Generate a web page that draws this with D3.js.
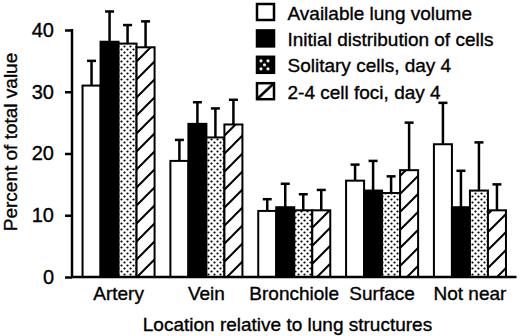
<!DOCTYPE html>
<html><head><meta charset="utf-8">
<script src="https://cdn.jsdelivr.net/npm/d3@7/dist/d3.min.js"></script>
<style>
html,body{margin:0;padding:0;background:#fff;}
svg{display:block;}
text{font-family:"Liberation Sans",Arial,Helvetica,sans-serif;fill:#000;stroke:#000;stroke-width:0.35px;}
</style></head>
<body>
<svg id="chart" width="520" height="336"></svg>
<script>
const categories = ["Artery", "Vein", "Bronchiole", "Surface", "Not near"];
const seriesNames = ["Available lung volume", "Initial distribution of cells", "Solitary cells, day 4", "2-4 cell foci, day 4"];
const available = [31.0, 18.8, 10.7, 15.6, 21.5];
const availableErr = [4.0, 3.4, 1.9, 2.6, 6.7];
const initial = [38.1, 24.8, 11.3, 14.0, 11.3];
const initialErr = [4.9, 3.5, 3.8, 4.8, 5.9];
const solitary = [37.8, 22.6, 10.8, 13.6, 14.0];
const solitaryErr = [3.0, 4.7, 2.6, 2.7, 7.8];
const foci = [37.2, 24.7, 10.8, 17.3, 10.8];
const fociErr = [4.2, 4.0, 3.3, 7.7, 4.2];
const yTicks = [0, 10, 20, 30, 40];

const values = [available, initial, solitary, foci];
const errors = [availableErr, initialErr, solitaryErr, fociErr];
const fills = ["#fff", "#000", "url(#dots)", "url(#hatch)"];

const svg = d3.select("#chart");
const defs = svg.append("defs");
// dotted pattern
const pd = defs.append("pattern").attr("id", "dots").attr("patternUnits", "userSpaceOnUse")
  .attr("width", 6).attr("height", 6);
pd.append("rect").attr("width", 6).attr("height", 6).attr("fill", "#fff");
pd.append("circle").attr("cx", 1.5).attr("cy", 1.5).attr("r", 1.1).attr("fill", "#000");
pd.append("circle").attr("cx", 4.5).attr("cy", 4.5).attr("r", 1.1).attr("fill", "#000");
// hatch pattern
const ph = defs.append("pattern").attr("id", "hatch").attr("patternUnits", "userSpaceOnUse")
  .attr("width", 18).attr("height", 18);
ph.append("rect").attr("width", 18).attr("height", 18).attr("fill", "#fff");
ph.append("path").attr("d", "M-2,20 L20,-2 M-2,2 L2,-2 M16,20 L20,16")
  .attr("stroke", "#000").attr("stroke-width", 2);
// legend dotted pattern (black with white dots)
const pl = defs.append("pattern").attr("id", "ldots").attr("patternUnits", "objectBoundingBox")
  .attr("width", 1).attr("height", 1);
pl.append("rect").attr("width", 17).attr("height", 16).attr("fill", "#000");
[[4,4],[11,4],[7.5,8],[4,12],[11,12]].forEach(p => pl.append("circle").attr("cx", p[0]).attr("cy", p[1]).attr("r", 1.6).attr("fill", "#fff"));

const x = d3.scaleBand().domain(categories).range([72, 516.5]).paddingInner(0.18).paddingOuter(0.12);
const y = d3.scaleLinear().domain([0, 40]).range([277, 30]);
const bw = x.bandwidth() / 4;

// bars
const g = svg.append("g");
values.forEach((vals, si) => {
  g.selectAll(null).data(categories).enter().append("rect")
    .attr("x", d => x(d) + si * bw)
    .attr("y", (d, i) => y(vals[i]))
    .attr("width", bw)
    .attr("height", (d, i) => y(0) - y(vals[i]))
    .attr("fill", fills[si])
    .attr("stroke", "#000").attr("stroke-width", 2);
});
// error bars
values.forEach((vals, si) => {
  categories.forEach((c, i) => {
    const cx = x(c) + si * bw + bw / 2;
    const top = y(vals[i] + errors[si][i]);
    g.append("line").attr("x1", cx).attr("x2", cx).attr("y1", y(vals[i])).attr("y2", top)
      .attr("stroke", "#000").attr("stroke-width", 2.5);
    g.append("line").attr("x1", cx - 4.5).attr("x2", cx + 4.5).attr("y1", top).attr("y2", top)
      .attr("stroke", "#000").attr("stroke-width", 2.5);
  });
});

// y axis
const ya = svg.append("g").attr("transform", "translate(72,0)")
  .call(d3.axisLeft(y).tickValues(yTicks).tickSize(7).tickPadding(11).tickFormat(d3.format("d")));
ya.select(".domain").attr("stroke-width", 2.5).attr("d", `M0,${y(40)-1}V${y(0)}`);
ya.selectAll(".tick line").attr("stroke-width", 2.5);
ya.selectAll(".tick text").attr("font-size", 20).attr("font-family", "Liberation Sans, Arial, sans-serif");

// x axis
const xa = svg.append("g").attr("transform", `translate(0,${y(0)})`)
  .call(d3.axisBottom(x).tickSize(0).tickPadding(10));
xa.select(".domain").attr("stroke-width", 2.5).attr("d", "M71,0H516.5");
xa.selectAll(".tick text").attr("font-size", 19).attr("font-family", "Liberation Sans, Arial, sans-serif");

// axis titles
svg.append("text").attr("x", 287.5).attr("y", 331).attr("text-anchor", "middle")
  .attr("font-size", 19).text("Location relative to lung structures");
svg.append("text").attr("transform", "translate(17,142) rotate(-90)").attr("text-anchor", "middle")
  .attr("font-size", 19).text("Percent of total value");

// legend
const legFills = ["#fff", "#000", "url(#ldots)", "url(#hatchL)"];
const phl = defs.append("pattern").attr("id", "hatchL").attr("patternUnits", "objectBoundingBox")
  .attr("width", 1).attr("height", 1);
phl.append("rect").attr("width", 17).attr("height", 16).attr("fill", "#fff");
phl.append("path").attr("d", "M1,15 L16,1").attr("stroke", "#000").attr("stroke-width", 2.5);
const leg = svg.append("g");
seriesNames.forEach((name, i) => {
  const yy = 4 + i * 26.4;
  leg.append("rect").attr("x", 257).attr("y", yy).attr("width", 17).attr("height", 16)
    .attr("fill", legFills[i]).attr("stroke", "#000").attr("stroke-width", 2.5);
  leg.append("text").attr("x", 287.5).attr("y", yy + 15.5).attr("font-size", 19).text(name);
});
</script>
</body></html>
